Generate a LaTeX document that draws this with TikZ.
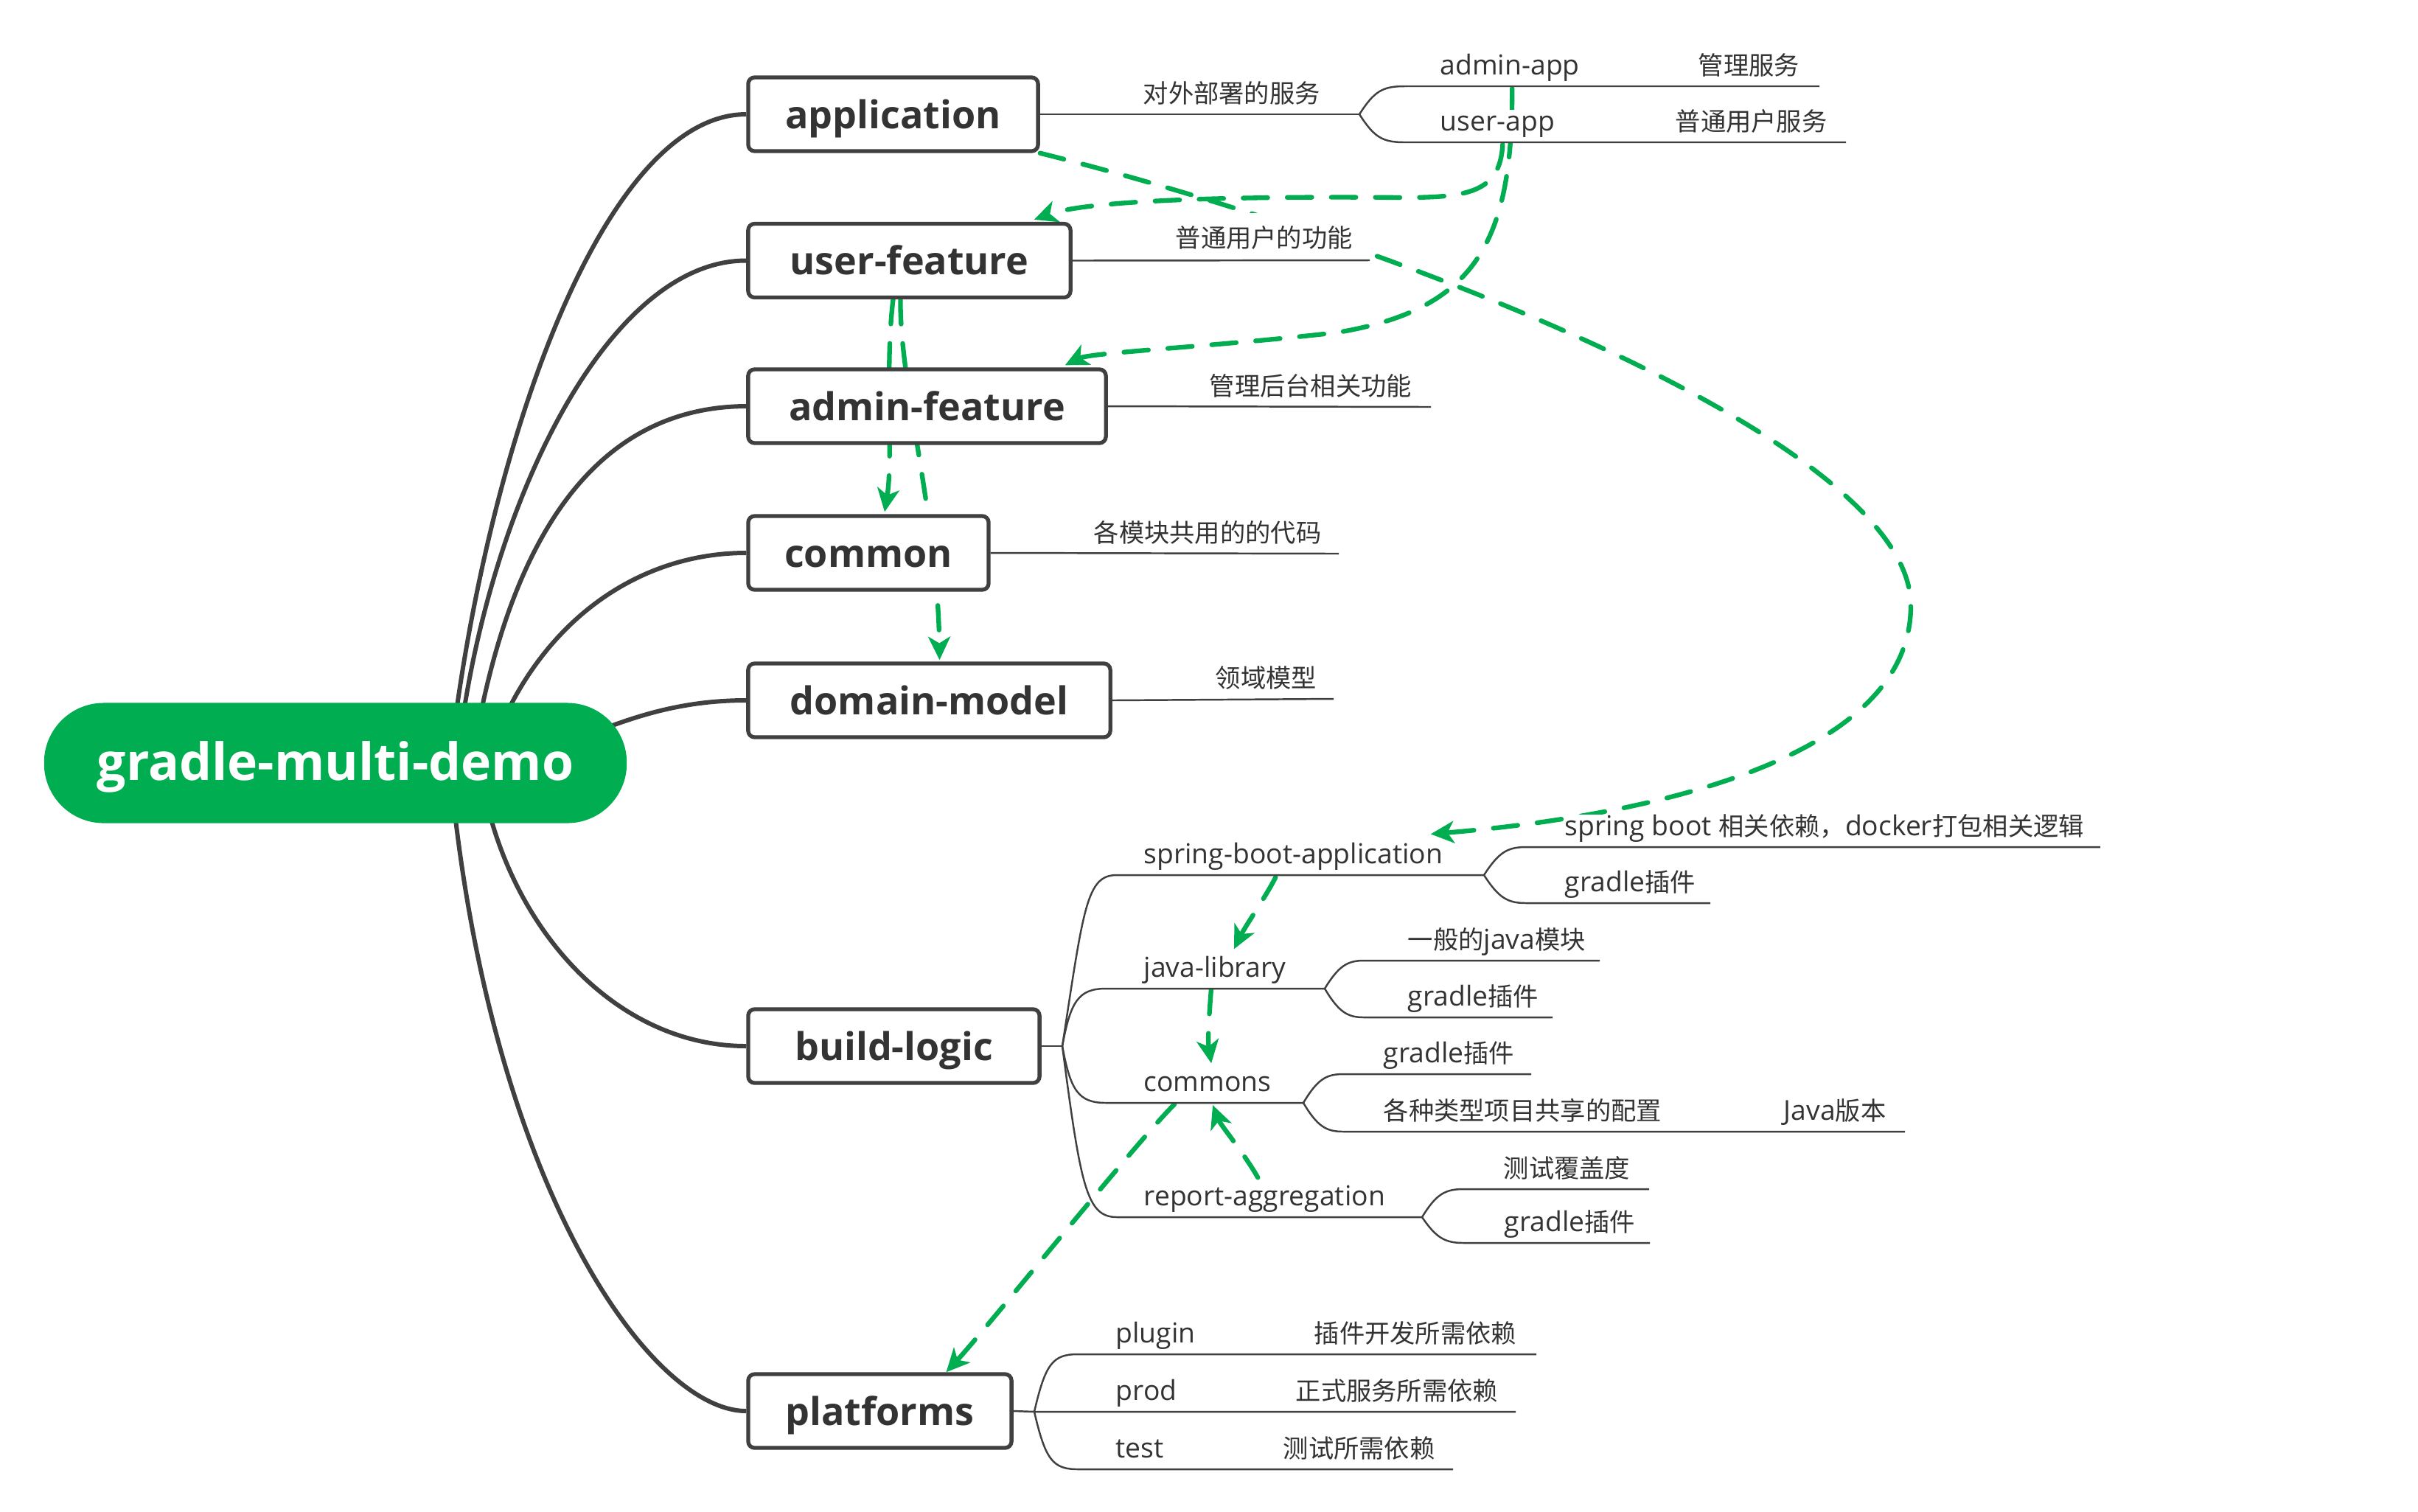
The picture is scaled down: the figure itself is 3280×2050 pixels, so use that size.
\documentclass[tikz,border=0pt]{standalone}
\usepackage{fontspec}
\setmainfont{Open Sans}
\newfontfamily\zhfont{Noto Sans CJK SC}
\usetikzlibrary{arrows.meta,calc}
\pgfdeclarelayer{bg}
\pgfdeclarelayer{mid}
\pgfsetlayers{bg,mid,main}
\definecolor{mmgreen}{HTML}{00AD50}
\definecolor{mmdark}{HTML}{404040}
\definecolor{mmtext}{HTML}{333333}
\newcommand{\zh}[1]{{\zhfont\fontsize{9.75pt}{12pt}\selectfont #1}}
\tikzset{
  topic/.style={draw=mmdark, line width=1.5pt, rounded corners=2.5pt, fill=white, text=mmtext,
    font=\bfseries\fontsize{14.8pt}{18pt}\selectfont, inner sep=0pt, text height=12pt, text depth=1pt},
  lbl/.style={anchor=south west, inner xsep=0pt, inner ysep=0pt, text height=8pt, text depth=4.3pt,
    fill=white, text=mmtext, font=\fontsize{10.6pt}{13pt}\selectfont},
  branchline/.style={draw=mmdark, line width=1.7pt},
  twig/.style={draw=mmdark, line width=0.7pt},
  dep/.style={draw=mmgreen, line width=1.8pt, line cap=round, dash pattern=on 9.5pt off 7.5pt,
    -{Stealth[length=9pt,width=8.5pt,inset=2.5pt]}},
}
\begin{document}
\begin{tikzpicture}[x=0.01cm,y=-0.01cm]
\begin{pgfonlayer}{bg}
\fill[white] (0,0) rectangle (3280,2050);
\end{pgfonlayer}
\useasboundingbox (0,0) rectangle (3280,2050);

% root and topics
\node[fill=mmgreen, rounded corners=23pt, minimum width=7.9cm, minimum height=1.63cm, inner sep=0pt,
  text=white, font=\bfseries\fontsize{19.8pt}{24pt}\selectfont, text height=15pt, text depth=1.4pt]
  (root) at (455,1035) {gradle-multi-demo};
\node[topic, minimum width=3.93cm, minimum height=1.0cm] (app) at (1211.5,155) {application};
\node[topic, minimum width=4.37cm, minimum height=1.0cm] (uf) at (1233.5,353.5) {user-feature};
\node[topic, minimum width=4.85cm, minimum height=1.0cm] (af) at (1257.5,551) {admin-feature};
\node[topic, minimum width=3.26cm, minimum height=1.0cm] (cmn) at (1178,750) {common};
\node[topic, minimum width=4.91cm, minimum height=1.0cm] (dm) at (1260.5,950) {domain-model};
\node[topic, minimum width=3.95cm, minimum height=1.0cm] (bl) at (1212.5,1419) {build-logic};
\node[topic, minimum width=3.57cm, minimum height=1.0cm] (pf) at (1193.5,1914) {platforms};

% labels
\node[lbl] (lApp) at (1550,155) {\zh{对外部署的服务}};
\node[lbl] (adminapp) at (1953,117) {admin-app};
\node[lbl] (lAdminapp) at (2303,117) {\zh{管理服务}};
\node[lbl] (userapp) at (1953,193) {user-app};
\node[lbl] (lUserapp) at (2272,193) {\zh{普通用户服务}};
\node[lbl, inner xsep=8pt, xshift=-8pt, text height=13pt] (lUF) at (1594,351) {\zh{普通用户的功能}};
\node[lbl] (lAF) at (1640,552) {\zh{管理后台相关功能}};
\node[lbl] (lCMN) at (1483,751) {\zh{各模块共用的的代码}};
\node[lbl] (lDM) at (1648,948) {\zh{领域模型}};
\node[lbl] (sba) at (1551,1187) {spring-boot-application};
\node[lbl] (lSBA1) at (2122,1149) {spring boot \zh{相关依赖，}docker\zh{打包相关逻辑}};
\node[lbl] (lSBA2) at (2122,1225) {gradle\zh{插件}};
\node[lbl] (jl) at (1551,1341) {java-library};
\node[lbl] (lJL1) at (1909,1303) {\zh{一般的}java\zh{模块}};
\node[lbl] (lJL2) at (1909,1380) {gradle\zh{插件}};
\node[lbl] (cms) at (1551,1496) {commons};
\node[lbl] (lCM1) at (1876,1457) {gradle\zh{插件}};
\node[lbl] (lCM2) at (1876,1535) {\zh{各种类型项目共享的配置}};
\node[lbl] (lCM3) at (2419,1535) {Java\zh{版本}};
\node[lbl] (ra) at (1551,1651) {report-aggregation};
\node[lbl] (lRA1) at (2039,1613) {\zh{测试覆盖度}};
\node[lbl] (lRA2) at (2040,1686) {gradle\zh{插件}};
\node[lbl] (plugin) at (1513,1837) {plugin};
\node[lbl] (lPlugin) at (1782,1837) {\zh{插件开发所需依赖}};
\node[lbl] (prod) at (1513,1915) {prod};
\node[lbl] (lProd) at (1757,1915) {\zh{正式服务所需依赖}};
\node[lbl] (test) at (1513,1993) {test};
\node[lbl] (lTest) at (1740,1993) {\zh{测试所需依赖}};

% fork points
\coordinate (fApp) at (1844,155);
\coordinate (fBL) at (1441,1419);
\coordinate (fSBA) at (2013,1187);
\coordinate (fJL) at (1797,1341);
\coordinate (fCM) at (1768,1496);
\coordinate (fRA) at (1929,1651);
\coordinate (fPF) at (1403,1915);

% main branches
\begin{pgfonlayer}{bg}
\draw[branchline] ($(root.center)+(155,0)$) .. controls (660,600) and (820,155) .. (app.west);
\draw[branchline] ($(root.center)+(165,0)$) .. controls (655,700) and (820,353) .. (uf.west);
\draw[branchline] ($(root.center)+(185,0)$) .. controls (680,780) and (780,552) .. (af.west);
\draw[branchline] ($(root.center)+(205,0)$) .. controls (720,850) and (860,750) .. (cmn.west);
\draw[branchline] ($(root.center)+(245,0)$) .. controls (800,1000) and (880,950) .. (dm.west);
\draw[branchline] ($(root.center)+(195,0)$) .. controls (680,1250) and (830,1419) .. (bl.west);
\draw[branchline] ($(root.center)+(155,0)$) .. controls (660,1600) and (880,1914) .. (pf.west);
\end{pgfonlayer}

% sub branches
\draw[twig] (app.east) -- (fApp);
\draw[twig] (fApp) .. controls (1864,124) and (1875,117) .. (1905,117) -- (2468,117);
\draw[twig] (fApp) .. controls (1864,186) and (1875,193) .. (1905,193) -- (2504,193);
\draw[twig] (uf.east) -- (1858,353);
\draw[twig] (af.east) -- (1941,552);
\draw[twig] (cmn.east) -- (1816,751);
\draw[twig] (dm.east) -- (1809,948);

\draw[twig] (bl.east) -- (fBL);
\draw[twig] (fBL) .. controls (1470,1230) and (1474,1187) .. (1515,1187) -- (fSBA);
\draw[twig] (fBL) .. controls (1452,1360) and (1462,1341) .. (1500,1341) -- (fJL);
\draw[twig] (fBL) .. controls (1452,1478) and (1462,1496) .. (1500,1496) -- (fCM);
\draw[twig] (fBL) .. controls (1466,1610) and (1474,1651) .. (1515,1651) -- (fRA);

\draw[twig] (fSBA) .. controls (2033,1156) and (2045,1149) .. (2070,1149) -- (2849,1149);
\draw[twig] (fSBA) .. controls (2033,1218) and (2045,1225) .. (2070,1225) -- (2320,1225);
\draw[twig] (fJL) .. controls (1816,1310) and (1828,1303) .. (1850,1303) -- (2170,1303);
\draw[twig] (fJL) .. controls (1816,1373) and (1828,1380) .. (1850,1380) -- (2106,1380);
\draw[twig] (fCM) .. controls (1787,1464) and (1799,1457) .. (1822,1457) -- (2077,1457);
\draw[twig] (fCM) .. controls (1787,1528) and (1799,1535) .. (1822,1535) -- (2584,1535);
\draw[twig] (fRA) .. controls (1948,1620) and (1960,1613) .. (1985,1613) -- (2237,1613);
\draw[twig] (fRA) .. controls (1948,1679) and (1960,1686) .. (1985,1686) -- (2238,1686);

\draw[twig] (pf.east) -- (fPF) -- (2056,1915);
\draw[twig] (fPF) .. controls (1418,1850) and (1428,1837) .. (1462,1837) -- (2084,1837);
\draw[twig] (fPF) .. controls (1418,1980) and (1428,1993) .. (1462,1993) -- (1971,1993);

% dependency arrows
\begin{pgfonlayer}{mid}
\draw[dep] (app.south east) .. controls (1900,330) and (2590,600) .. (2592,820)
  .. controls (2594,1040) and (2200,1110) .. ($(sba.north east)+(-17,-11)$);
\draw[dep] ($(userapp.south)+(7,3)$) .. controls (2035,262) and (1990,268) .. (1900,268)
  .. controls (1700,266) and (1480,270) .. ($(uf.north east)+(-52,-3)$);
\draw[dep] ($(adminapp.south)+(3,3)$) .. controls (2052,330) and (2000,420) .. (1814,451)
  .. controls (1650,470) and (1480,478) .. ($(af.north east)+(-58,-3)$);
\draw[dep] ($(uf.south)+(-22,0)$) .. controls (1200,500) and (1212,620) .. ($(cmn.north)+(22,-3)$);
\draw[dep] ($(uf.south)+(-12,0)$) .. controls (1220,520) and (1272,700) .. ($(dm.north)+(14,-2)$);
\draw[dep] ($(sba.south)+(-24,3)$) .. controls (1716,1218) and (1690,1255) .. ($(jl.north)+(26,-9)$);
\draw[dep] ($(jl.south)+(-5,1)$) .. controls (1640,1380) and (1638,1410) .. ($(cms.north)+(5,-9)$);
\draw[dep] ($(ra.north)+(-9,-9)$) .. controls (1688,1565) and (1655,1525) .. ($(cms.south)+(7,3)$);
\draw[dep] ($(cms.south)+(-45,2)$) .. controls (1545,1545) and (1340,1800) .. ($(pf.north)+(90,0)$);
\end{pgfonlayer}
\end{tikzpicture}
\end{document}
